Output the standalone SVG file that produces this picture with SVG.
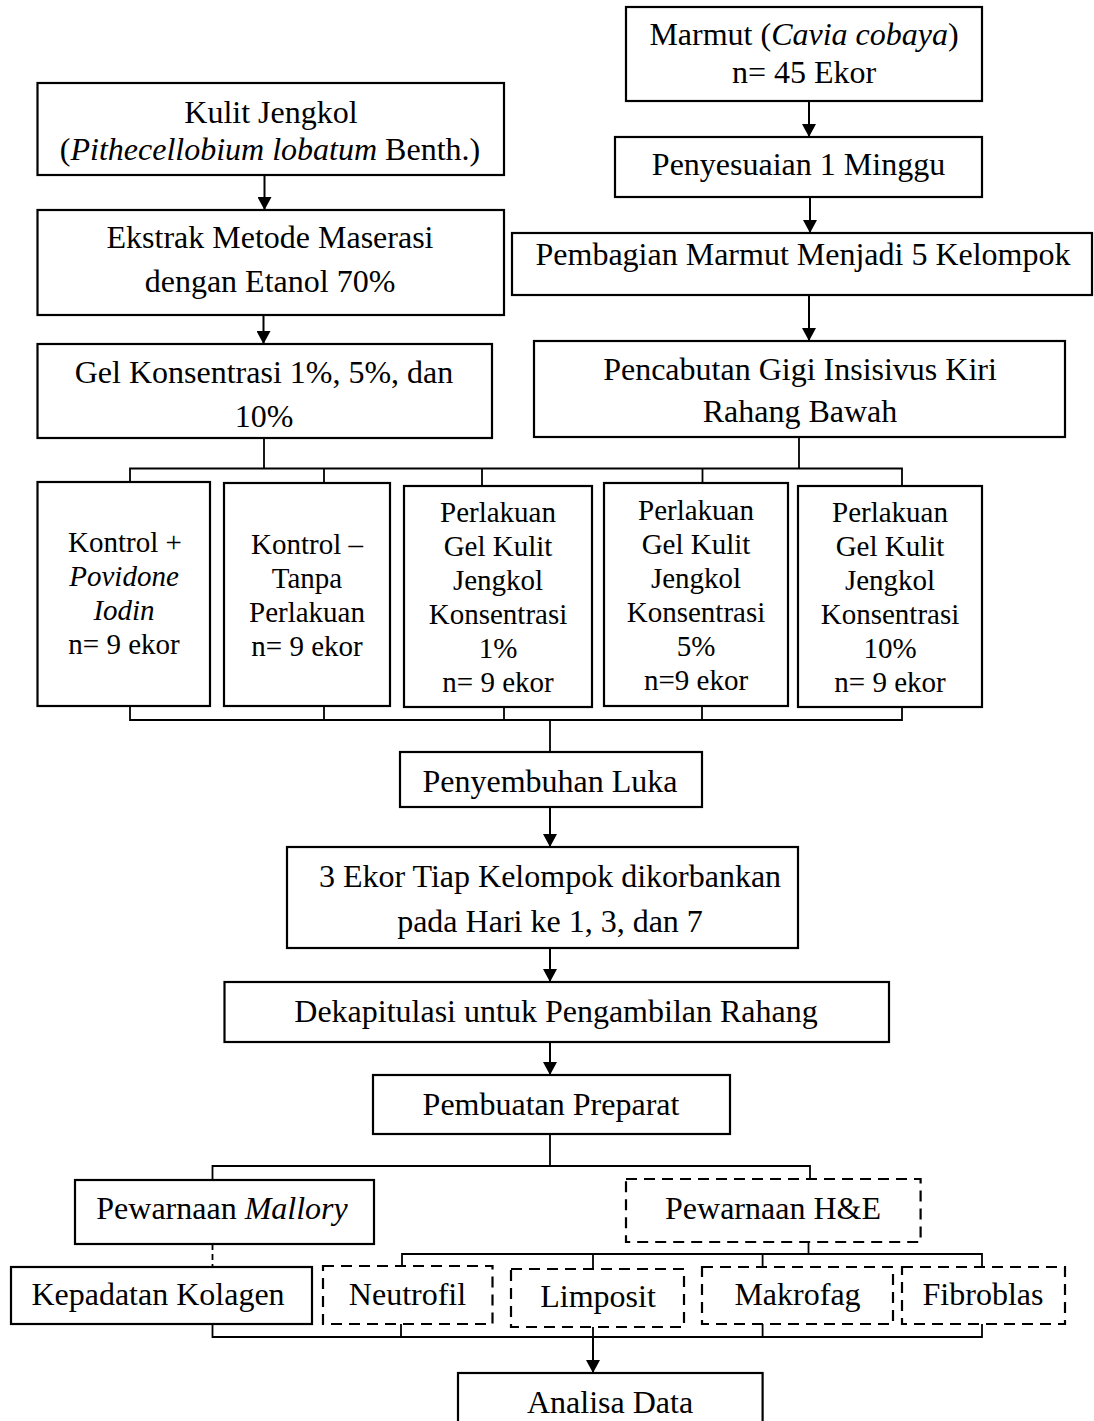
<svg xmlns="http://www.w3.org/2000/svg" width="1094" height="1421" viewBox="0 0 1094 1421">
<style>
.box{fill:#fff;stroke:#000;stroke-width:2.2}
.dash{stroke-dasharray:11 7}
.t{font-family:"Liberation Serif","Times New Roman",serif;font-size:32px;text-anchor:middle;fill:#000}
.s{font-size:29px}
.i{font-style:italic}
.ln{stroke:#000;stroke-width:1.8;fill:none}
.ar{stroke:#000;stroke-width:2;fill:none;marker-end:url(#ah)}
.dl{stroke-dasharray:6 4}
</style>
<defs>
<marker id="ah" viewBox="0 0 13 14" refX="13" refY="7" markerWidth="13" markerHeight="14" markerUnits="userSpaceOnUse" orient="auto">
<path d="M0,0 L13,7 L0,14 Z" fill="#000"/>
</marker>
</defs>
<rect width="1094" height="1421" fill="#fff"/>

<g id="connectors">
<line class="ar" x1="264.5" y1="175" x2="264.5" y2="210"/>
<line class="ar" x1="263.5" y1="315" x2="263.5" y2="344"/>
<line class="ar" x1="809" y1="101" x2="809" y2="137"/>
<line class="ar" x1="810" y1="197" x2="810" y2="233"/>
<line class="ar" x1="809" y1="295" x2="809" y2="341"/>
<line class="ln" x1="264" y1="438" x2="264" y2="468.5"/>
<line class="ln" x1="799" y1="437" x2="799" y2="468.5"/>
<path class="ln" d="M130,483 V468.5 H902 V486 M324,468.5 V483 M482,468.5 V486 M702.5,468.5 V483"/>
<path class="ln" d="M130,706 V720 H902 V707 M324,706 V720 M504,707 V720 M702,706 V720 M550,720 V752"/>
<line class="ar" x1="550" y1="807" x2="550" y2="847"/>
<line class="ar" x1="550" y1="948" x2="550" y2="982"/>
<line class="ar" x1="550" y1="1042" x2="550" y2="1075"/>
<path class="ln" d="M550,1134 V1166 M212.5,1180 V1166 H810 V1179"/>
<line class="ln dl" x1="212.5" y1="1244" x2="212.5" y2="1267"/>
<path class="ln" d="M808.5,1242 V1254 M402,1266 V1254 H982 V1267 M593,1254 V1269 M762.6,1254 V1267"/>
<path class="ln" d="M212.5,1324 V1337 H982 V1324 M401,1324 V1337 M593,1327 V1337 M762.6,1324 V1337"/>
<line class="ar" x1="593" y1="1337" x2="593" y2="1373"/>
</g>

<g id="kulit">
<rect class="box" x="37.5" y="83" width="466.5" height="92"/>
<text class="t" x="271" y="123">Kulit Jengkol</text>
<text class="t" x="270" y="160">(<tspan class="i">Pithecellobium lobatum</tspan> Benth.)</text>
</g>
<g id="ekstrak">
<rect class="box" x="37.5" y="210" width="466.5" height="105"/>
<text class="t" x="270" y="248">Ekstrak Metode Maserasi</text>
<text class="t" x="270" y="292">dengan Etanol 70%</text>
</g>
<g id="gel">
<rect class="box" x="37.5" y="344" width="454.5" height="94"/>
<text class="t" x="264" y="383">Gel Konsentrasi 1%, 5%, dan</text>
<text class="t" x="264" y="427">10%</text>
</g>
<g id="marmut">
<rect class="box" x="626" y="7" width="356" height="94"/>
<text class="t" x="804" y="45">Marmut (<tspan class="i">Cavia cobaya</tspan>)</text>
<text class="t" x="804" y="83">n= 45 Ekor</text>
</g>
<g id="penyesuaian">
<rect class="box" x="615" y="137" width="367" height="60"/>
<text class="t" x="798.5" y="175">Penyesuaian 1 Minggu</text>
</g>
<g id="pembagian">
<rect class="box" x="512" y="233" width="580" height="62"/>
<text class="t" x="803" y="265">Pembagian Marmut Menjadi 5 Kelompok</text>
</g>
<g id="pencabutan">
<rect class="box" x="534" y="341" width="531" height="96"/>
<text class="t" x="800" y="380">Pencabutan Gigi Insisivus Kiri</text>
<text class="t" x="800" y="422">Rahang Bawah</text>
</g>

<g id="kontrol-plus">
<rect class="box" x="37.5" y="482" width="172.5" height="224"/>
<text class="t s" x="125" y="552">Kontrol +</text>
<text class="t s i" x="124" y="586">Povidone</text>
<text class="t s i" x="124" y="620">Iodin</text>
<text class="t s" x="124" y="654">n= 9 ekor</text>
</g>
<g id="kontrol-minus">
<rect class="box" x="224" y="483" width="166" height="223"/>
<text class="t s" x="307" y="554">Kontrol –</text>
<text class="t s" x="307" y="588">Tanpa</text>
<text class="t s" x="307" y="622">Perlakuan</text>
<text class="t s" x="307" y="656">n= 9 ekor</text>
</g>
<g id="perlakuan-1">
<rect class="box" x="404" y="486" width="188" height="221"/>
<text class="t s" x="498" y="522">Perlakuan</text>
<text class="t s" x="498" y="556">Gel Kulit</text>
<text class="t s" x="498" y="590">Jengkol</text>
<text class="t s" x="498" y="624">Konsentrasi</text>
<text class="t s" x="498" y="658">1%</text>
<text class="t s" x="498" y="692">n= 9 ekor</text>
</g>
<g id="perlakuan-5">
<rect class="box" x="604" y="483" width="184" height="223"/>
<text class="t s" x="696" y="520">Perlakuan</text>
<text class="t s" x="696" y="554">Gel Kulit</text>
<text class="t s" x="696" y="588">Jengkol</text>
<text class="t s" x="696" y="622">Konsentrasi</text>
<text class="t s" x="696" y="656">5%</text>
<text class="t s" x="696" y="690">n=9 ekor</text>
</g>
<g id="perlakuan-10">
<rect class="box" x="798" y="486" width="184" height="221"/>
<text class="t s" x="890" y="522">Perlakuan</text>
<text class="t s" x="890" y="556">Gel Kulit</text>
<text class="t s" x="890" y="590">Jengkol</text>
<text class="t s" x="890" y="624">Konsentrasi</text>
<text class="t s" x="890" y="658">10%</text>
<text class="t s" x="890" y="692">n= 9 ekor</text>
</g>

<g id="penyembuhan">
<rect class="box" x="400" y="752" width="302" height="55"/>
<text class="t" x="550" y="792">Penyembuhan Luka</text>
</g>
<g id="dikorbankan">
<rect class="box" x="287" y="847" width="511" height="101"/>
<text class="t" x="550" y="887">3 Ekor Tiap Kelompok dikorbankan</text>
<text class="t" x="550" y="932">pada Hari ke 1, 3, dan 7</text>
</g>
<g id="dekapitulasi">
<rect class="box" x="224.5" y="982" width="664.5" height="60"/>
<text class="t" x="556" y="1022">Dekapitulasi untuk Pengambilan Rahang</text>
</g>
<g id="preparat">
<rect class="box" x="373" y="1075" width="357" height="59"/>
<text class="t" x="551" y="1115">Pembuatan Preparat</text>
</g>

<g id="mallory">
<rect class="box" x="75" y="1180" width="299" height="64"/>
<text class="t" x="222" y="1219">Pewarnaan <tspan class="i">Mallory</tspan></text>
</g>
<g id="he">
<rect class="box dash" x="626" y="1179" width="294.6" height="63"/>
<text class="t" x="773" y="1219">Pewarnaan H&amp;E</text>
</g>
<g id="kolagen">
<rect class="box" x="11" y="1267" width="301" height="57"/>
<text class="t" x="158" y="1305">Kepadatan Kolagen</text>
</g>
<g id="neutrofil">
<rect class="box dash" x="323" y="1266" width="169.5" height="58"/>
<text class="t" x="407.5" y="1305">Neutrofil</text>
</g>
<g id="limposit">
<rect class="box dash" x="511" y="1269" width="173" height="58"/>
<text class="t" x="598" y="1307">Limposit</text>
</g>
<g id="makrofag">
<rect class="box dash" x="702" y="1267" width="191" height="57"/>
<text class="t" x="797.5" y="1305">Makrofag</text>
</g>
<g id="fibroblas">
<rect class="box dash" x="902" y="1267" width="163" height="57"/>
<text class="t" x="983" y="1305">Fibroblas</text>
</g>
<g id="analisa">
<rect class="box" x="458" y="1373" width="304.6" height="60"/>
<text class="t" x="610" y="1413">Analisa Data</text>
</g>
</svg>
